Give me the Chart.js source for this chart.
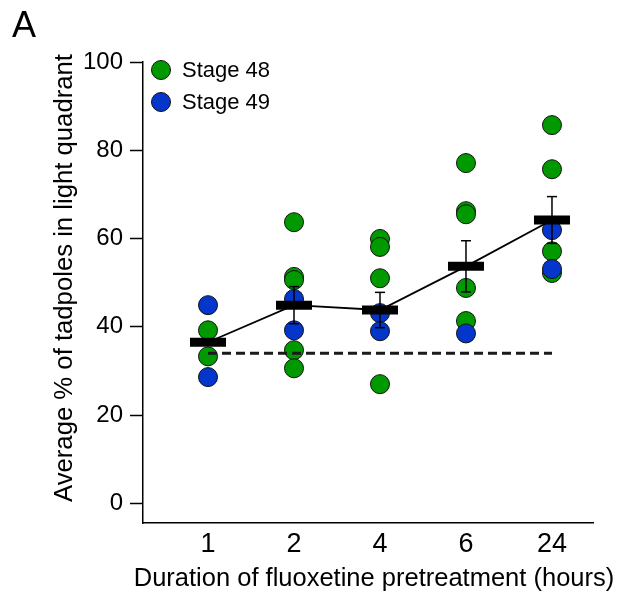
<!DOCTYPE html>
<html lang="en">
<head>
<meta charset="UTF-8">
<title>Fluoxetine pretreatment</title>
<style>
  html, body { margin: 0; padding: 0; background: #fff; }
  #wrap { position: relative; width: 621px; height: 598px; overflow: hidden; }
  #chart { position: absolute; left: 0; top: 0; }
  .lbl { position: absolute; font-family: "Liberation Sans", Arial, Helvetica, sans-serif; color: #000; white-space: nowrap; }
  #panel { left: 12px; top: 7px; font-size: 36px; line-height: 36px; }
  #ytitle { left: -187px; top: 263px; width: 500px; height: 30px; font-size: 25.7px; line-height: 30px; text-align: center; transform: rotate(-90deg); }
  #xtitle { left: 124px; top: 562px; width: 500px; height: 30px; font-size: 25.5px; line-height: 30px; text-align: center; }
</style>
<script src="https://cdn.jsdelivr.net/npm/chart.js"></script>
</head>
<body>
<div id="wrap">
  <canvas id="chart" width="621" height="598"></canvas>
  <div class="lbl" id="panel">A</div>
  <div class="lbl" id="ytitle">Average % of tadpoles in light quadrant</div>
  <div class="lbl" id="xtitle">Duration of fluoxetine pretreatment (hours)</div>
</div>
<script>
// categories (hours of pretreatment)
const hours = ['1', '2', '4', '6', '24'];
// individual values per group
const stage48 = [
  [39.2, 33.3],
  [63.7, 51.3, 50.6, 34.7, 30.6],
  [59.9, 58.1, 51.0, 27.0],
  [77.1, 66.2, 65.5, 48.8, 41.3],
  [85.7, 75.7, 57.1, 52.2]
];
const stage49 = [
  [44.9, 28.6],
  [46.3, 39.2],
  [43.1, 39.0],
  [38.5],
  [61.9, 53.1]
];
const means = [36.5, 44.9, 43.8, 53.7, 64.2];
const sems = [null, 4.2, 4.0, 5.8, 5.3];
const chanceLevel = 34;
const yTicks = [0, 20, 40, 60, 80, 100];

const green = '#009a00';
const blue = '#0436cc';

function toPoints(groups) {
  const out = [];
  groups.forEach((g, i) => g.forEach(v => out.push({ x: i, y: v })));
  return out;
}

// error bars: low/high pairs split by gaps
const errPoints = [];
sems.forEach((s, i) => {
  if (s == null) return;
  errPoints.push({ x: i, y: means[i] - s }, { x: i, y: means[i] + s }, { x: i, y: null });
});

// legend drawn inside the plot, top left
const stageLegend = {
  id: 'stageLegend',
  afterDraw(chart) {
    const ctx = chart.ctx;
    const items = [['Stage 48', green], ['Stage 49', blue]];
    const x0 = chart.chartArea.left + 18;
    const y0 = chart.chartArea.top + 8;
    ctx.save();
    ctx.font = '22px "Liberation Sans", Arial, sans-serif';
    ctx.textBaseline = 'middle';
    items.forEach((it, k) => {
      const y = y0 + k * 32;
      ctx.beginPath();
      ctx.arc(x0, y, 9.5, 0, Math.PI * 2);
      ctx.fillStyle = it[1];
      ctx.fill();
      ctx.lineWidth = 1;
      ctx.strokeStyle = '#111';
      ctx.stroke();
      ctx.fillStyle = '#000';
      ctx.fillText(it[0], x0 + 21, y + 1);
    });
    ctx.restore();
  }
};

Chart.defaults.font.family = '"Liberation Sans", Arial, Helvetica, sans-serif';
Chart.defaults.color = '#000';

new Chart(document.getElementById('chart'), {
  type: 'scatter',
  data: {
    datasets: [
      {
        label: 'mean',
        data: means.map((m, i) => ({ x: i, y: m })),
        pointStyle: 'line',
        pointRadius: 18,
        pointBorderWidth: 9,
        pointBorderColor: '#000',
        order: 0
      },
      {
        label: 'sem',
        data: errPoints,
        showLine: true,
        spanGaps: false,
        borderColor: '#000',
        borderWidth: 1.5,
        pointStyle: 'line',
        pointRadius: 5,
        pointBorderWidth: 1.5,
        pointBorderColor: '#000',
        order: 1
      },
      {
        label: 'chance',
        data: [{ x: 0, y: chanceLevel }, { x: hours.length - 1, y: chanceLevel }],
        showLine: true,
        borderColor: '#1a1a1a',
        borderWidth: 3,
        borderDash: [9, 5],
        pointRadius: 0,
        order: 2
      },
      {
        label: 'trend',
        data: means.map((m, i) => ({ x: i, y: m })),
        showLine: true,
        borderColor: '#000',
        borderWidth: 1.8,
        pointRadius: 0,
        order: 3
      },
      {
        label: 'Stage 49',
        data: toPoints(stage49),
        backgroundColor: blue,
        borderColor: '#111',
        borderWidth: 1,
        pointRadius: 9.5,
        order: 4
      },
      {
        label: 'Stage 48',
        data: toPoints(stage48),
        backgroundColor: green,
        borderColor: '#111',
        borderWidth: 1,
        pointRadius: 9.5,
        order: 5
      }
    ]
  },
  options: {
    responsive: false,
    animation: false,
    layout: { padding: { left: 0, top: 62, right: 28, bottom: 0 } },
    plugins: {
      legend: { display: false },
      tooltip: { enabled: false }
    },
    scales: {
      x: {
        type: 'linear',
        min: -0.756,
        max: 4.477,
        afterBuildTicks: s => { s.ticks = hours.map((h, i) => ({ value: i })); },
        ticks: {
          callback: v => hours[v],
          font: { size: 27 },
          color: '#000',
          padding: 5,
          autoSkip: false,
          maxRotation: 0
        },
        grid: { drawOnChartArea: false, drawTicks: false },
        border: { color: '#000', width: 1.5 },
        afterFit: s => { s.height = 75; }
      },
      y: {
        min: -4.46,
        max: 100,
        afterBuildTicks: s => { s.ticks = yTicks.map(v => ({ value: v })); },
        ticks: { font: { size: 24 }, color: '#000', padding: 7 },
        grid: { drawOnChartArea: false, tickLength: 13, tickColor: '#000', tickWidth: 1.5 },
        border: { color: '#000', width: 1.5 },
        afterFit: s => { s.width = 143; }
      }
    }
  },
  plugins: [stageLegend]
});
</script>
</body>
</html>
